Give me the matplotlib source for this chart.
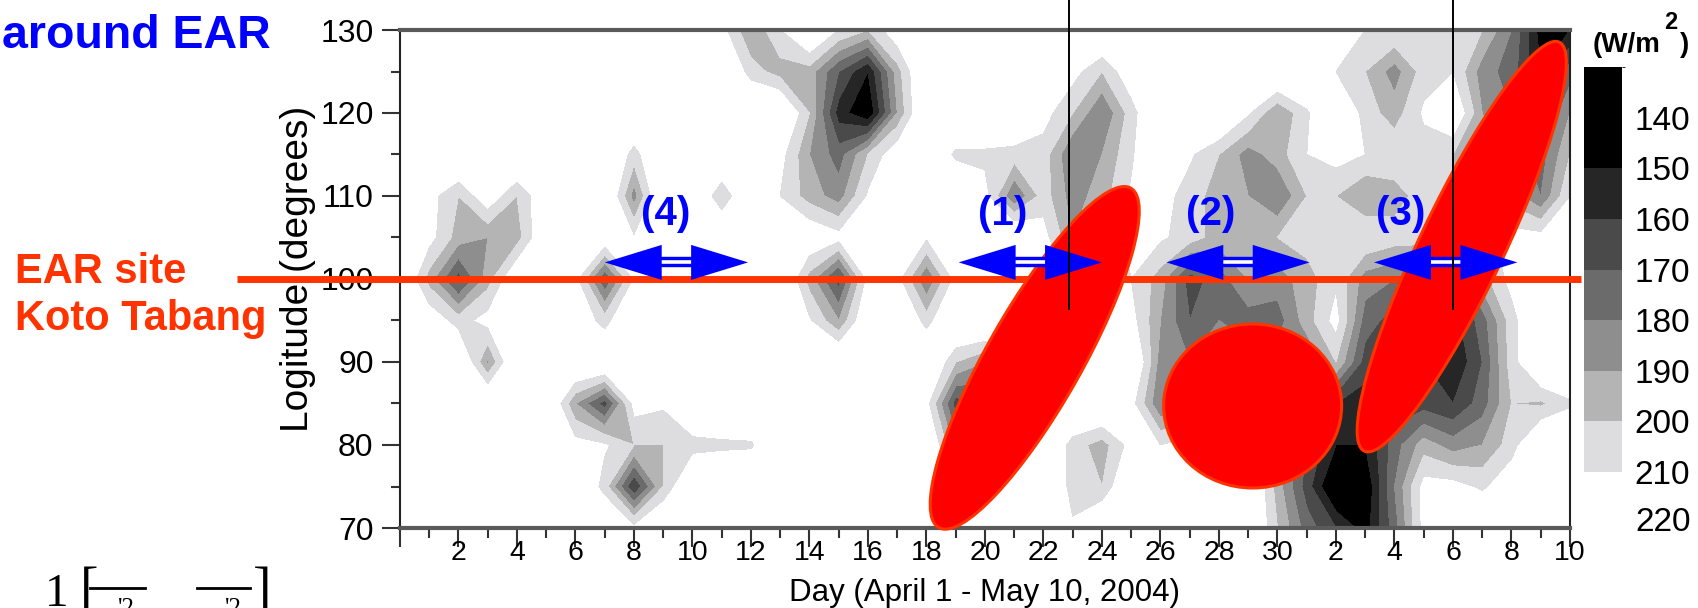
import numpy as np
import matplotlib
matplotlib.use("Agg")
import matplotlib.pyplot as plt
from matplotlib.colors import ListedColormap, BoundaryNorm
from matplotlib.patches import Ellipse, FancyArrowPatch
from matplotlib.transforms import ScaledTranslation, blended_transform_factory
from matplotlib.ticker import MultipleLocator
from matplotlib.lines import Line2D
import matplotlib.cm as cm

plt.rcParams['font.family'] = ['Liberation Sans', 'DejaVu Sans']

# day index: 1..30 = April 1..30, 31..40 = May 1..10
days = list(range(0, 41))
lons = [130, 125, 120, 115, 110, 105, 100, 95, 90, 85, 80, 75, 70]

# OLR (W/m^2), one row per longitude, days 0..40
olr_130 = [230, 230, 230, 230, 230, 230, 230, 230, 230, 230, 230, 215, 190, 210, 230, 210, 200, 220, 230, 230,
           230, 230, 230, 230, 230, 230, 230, 230, 230, 230, 230, 230, 215, 210, 210, 210, 208, 200, 180, 145, 150]
olr_125 = [230, 230, 230, 230, 230, 230, 230, 230, 230, 230, 230, 230, 205, 195, 195, 170, 150, 195, 230, 230,
           230, 230, 230, 215, 200, 220, 230, 230, 230, 230, 230, 230, 210, 200, 185, 205, 210, 185, 175, 150, 175]
olr_120 = [230, 230, 230, 230, 230, 230, 230, 230, 230, 230, 230, 230, 230, 230, 200, 155, 140, 190, 230, 230,
           230, 230, 215, 200, 180, 205, 230, 230, 230, 212, 190, 208, 230, 205, 195, 212, 225, 190, 180, 165, 190]
olr_115 = [230, 230, 230, 230, 230, 230, 230, 230, 205, 230, 230, 230, 230, 215, 190, 175, 200, 220, 230, 207,
           207, 205, 205, 180, 190, 208, 230, 212, 200, 185, 195, 210, 215, 210, 208, 205, 200, 195, 185, 175, 200]
olr_110 = [230, 215, 200, 220, 200, 222, 230, 230, 185, 230, 230, 200, 230, 210, 195, 185, 212, 230, 230, 230,
           215, 180, 205, 185, 195, 212, 215, 205, 195, 190, 180, 200, 200, 190, 195, 205, 200, 200, 195, 180, 210]
olr_105 = [230, 215, 195, 190, 195, 225, 230, 222, 212, 230, 230, 230, 230, 225, 222, 215, 230, 230, 212, 230,
           230, 230, 215, 190, 200, 215, 212, 205, 195, 195, 200, 205, 210, 210, 205, 205, 195, 205, 215, 215, 222]
olr_100 = [230, 195, 165, 195, 225, 230, 215, 170, 212, 230, 230, 230, 230, 230, 195, 165, 215, 215, 180, 215,
           230, 230, 230, 205, 215, 210, 195, 165, 175, 190, 185, 195, 208, 185, 180, 175, 165, 195, 215, 230, 230]
olr_95 = [230, 220, 205, 215, 230, 230, 222, 205, 230, 230, 230, 230, 230, 230, 212, 190, 225, 230, 205, 230,
          230, 230, 230, 230, 230, 215, 190, 170, 180, 175, 175, 195, 215, 175, 165, 160, 155, 175, 205, 230, 230]
olr_90 = [230, 230, 230, 188, 230, 230, 230, 230, 230, 230, 230, 230, 230, 230, 230, 230, 230, 230, 230, 200,
          190, 205, 230, 230, 230, 230, 185, 180, 185, 185, 185, 180, 200, 165, 175, 160, 150, 170, 205, 230, 230]
olr_85 = [230, 230, 230, 230, 230, 230, 190, 165, 215, 212, 230, 230, 230, 230, 230, 230, 230, 230, 215, 165,
          170, 200, 230, 230, 230, 215, 180, 190, 190, 190, 185, 170, 160, 155, 165, 165, 160, 175, 200, 198, 208]
olr_80 = [230, 230, 230, 230, 230, 230, 215, 212, 200, 200, 205, 207, 208, 230, 230, 230, 230, 230, 230, 185,
          190, 215, 230, 205, 195, 215, 210, 215, 220, 215, 200, 170, 150, 150, 175, 195, 185, 190, 205, 230, 230]
olr_75 = [230, 230, 230, 230, 230, 230, 230, 205, 160, 200, 230, 230, 230, 230, 230, 230, 230, 230, 230, 215,
          215, 230, 230, 205, 200, 230, 230, 230, 230, 230, 195, 165, 135, 140, 180, 215, 215, 208, 220, 230, 230]
olr_70 = [230, 230, 230, 230, 230, 230, 230, 230, 215, 230, 230, 230, 230, 230, 230, 230, 230, 230, 230, 230,
          230, 230, 230, 212, 230, 230, 230, 230, 230, 230, 200, 175, 160, 145, 175, 215, 230, 230, 230, 230, 230]

olr_levels = [100, 150, 160, 170, 180, 190, 200, 210]
olr_colors = ['#000000', '#262626', '#4a4a4a', '#6b6b6b', '#8e8e8e', '#b4b4b4', '#dddcde']
cbar_bounds = [130, 150, 160, 170, 180, 190, 200, 210]
cbar_labels = ['140', '150', '160', '170', '180', '190', '200', '210', '220']
cbar_label_vals = [140, 150, 160, 170, 180, 190, 200, 210, 220]

x_tick_days = [0, 2, 4, 6, 8, 10, 12, 14, 16, 18, 20, 22, 24, 26, 28, 30, 32, 34, 36, 38, 40]
x_tick_labels = ['', '2', '4', '6', '8', '10', '12', '14', '16', '18', '20', '22', '24', '26', '28', '30',
                 '2', '4', '6', '8', '10']
y_ticks = [70, 80, 90, 100, 110, 120, 130]

# annotations
ear_lon = 100
ear_line_days = [-5.57, 40.38]
marker_days = [22.87, 36.0]
arrow_lon = 102.0
arrow_start_days = [7.0, 19.1, 26.2, 33.3]
arrow_end_days = [11.9, 24.0, 31.1, 38.2]
arrow_labels = ['(4)', '(1)', '(2)', '(3)']
arrow_label_days = [9.1, 20.6, 27.7, 34.2]
arrow_label_lon = 107.8
# centre day, centre lon, length (in), width (in), angle
red_shapes = [(21.7, 90.5, 3.90, 0.95, 60.5),
              (29.15, 84.7, 1.78, 1.64, 0.0),
              (36.3, 103.9, 4.53, 0.84, 64.5)]

W, H = 1699, 608
fig = plt.figure(figsize=(W / 100, H / 100), dpi=100)
ax = fig.add_axes([400 / W, 1 - 528 / H, 1170 / W, 498 / H])

olr = np.array([olr_130, olr_125, olr_120, olr_115, olr_110, olr_105, olr_100,
                olr_95, olr_90, olr_85, olr_80, olr_75, olr_70])
ax.contourf(days, lons[::-1], olr[::-1], levels=olr_levels, colors=olr_colors, zorder=1)

ax.set_xlim(0, 40)
ax.set_ylim(70, 130)
ax.set_xticks(x_tick_days, x_tick_labels, fontsize=20.5)
ax.set_yticks(y_ticks, [str(v) for v in y_ticks], fontsize=23)
ax.xaxis.set_minor_locator(MultipleLocator(1))
ax.yaxis.set_minor_locator(MultipleLocator(5))
ax.tick_params(axis='x', which='major', length=14, width=1.5, color='#333333', pad=-5)
ax.tick_params(axis='x', which='minor', length=7, width=1.5, color='#333333')
ax.tick_params(axis='y', which='major', length=13, width=1.5, color='#333333', pad=6)
ax.tick_params(axis='y', which='minor', length=6.5, width=1.5, color='#333333')
for s in ['top', 'bottom']:
    ax.spines[s].set_color('#5a5a5a')
    ax.spines[s].set_linewidth(3)
for s in ['left', 'right']:
    ax.spines[s].set_color('#222222')
    ax.spines[s].set_linewidth(1.5)
ax.set_xlabel('Day (April 1 - May 10, 2004)', fontsize=22.5, va='baseline')
ax.xaxis.set_label_coords(0.5, (528 - 601.3) / 498)
ax.set_ylabel('Logitude (degrees)', fontsize=28, labelpad=0)
ax.yaxis.set_label_coords((316 - 400) / 1170, (528 - 269) / 498)

# EAR site line
ax.plot(ear_line_days, [ear_lon, ear_lon], color='#ff3300', lw=5, solid_capstyle='butt',
        clip_on=False, zorder=3)

# red shapes
for cx, cy, length, width, ang in red_shapes:
    tr = fig.dpi_scale_trans + ScaledTranslation(cx, cy, ax.transData)
    e = Ellipse((0, 0), length, width, angle=ang, transform=tr, facecolor='#ff0000',
                edgecolor='#ff3300', lw=2.2, zorder=4, clip_on=False)
    ax.add_patch(e)

# blue double arrows
for x0, x1 in zip(arrow_start_days, arrow_end_days):
    ax.plot([x0 + 1.0, x1 - 1.0], [arrow_lon, arrow_lon], color='#0000ff', lw=7.5,
            solid_capstyle='butt', zorder=6)
    ax.plot([x0 + 1.0, x1 - 1.0], [arrow_lon, arrow_lon], color='white', lw=2.6,
            solid_capstyle='butt', zorder=6.5)
    heads = FancyArrowPatch((x0, arrow_lon), (x1, arrow_lon),
                            arrowstyle='<|-|>,head_length=0.41,head_width=0.126',
                            mutation_scale=100, lw=0, color='#0000ff',
                            shrinkA=0, shrinkB=0, zorder=7)
    ax.add_patch(heads)
for lab, d in zip(arrow_labels, arrow_label_days):
    ax.text(d, arrow_label_lon, lab, color='#0000ff', fontsize=29, fontweight='bold',
            ha='center', va='center', zorder=8)

# thin black marker lines
for d in marker_days:
    ax.plot([d, d], [96.4, 134], color='black', lw=1.4, clip_on=False, zorder=10)

# colour bar
cax = fig.add_axes([1584 / W, 1 - 472 / H, 38 / W, 405 / H])
cmap = ListedColormap(olr_colors)
norm = BoundaryNorm(cbar_bounds, cmap.N)
cb = fig.colorbar(cm.ScalarMappable(norm=norm, cmap=cmap), cax=cax, spacing='proportional')
cb.outline.set_visible(False)
cax.set_ylim(210, 130)
cax.set_yticks(cbar_label_vals[:-1], cbar_labels[:-1], fontsize=24)
cax.tick_params(length=0, pad=9)
tr = blended_transform_factory(cax.transAxes, cax.transData)
cax.text(1.345, cbar_label_vals[-1], cbar_labels[-1], transform=tr, fontsize=24,
         ha='left', va='center', clip_on=False)

def fx(px):
    return px / W

def fy(py):
    return 1 - py / H

fig.text(fx(1593), fy(52), '(W/m', fontsize=20, fontweight='bold', va='baseline')
fig.text(fx(1664), fy(29), '2', fontsize=17, fontweight='bold', va='baseline')
fig.text(fx(1680), fy(52), ')', fontsize=20, fontweight='bold', va='baseline')

fig.text(fx(2), fy(48), 'around EAR', color='#0000ff', fontsize=33.5, fontweight='bold', va='baseline')
fig.text(fx(15), fy(283), 'EAR site', color='#ff3300', fontsize=30, fontweight='bold', va='baseline')
fig.text(fx(15), fy(330), 'Koto Tabang', color='#ff3300', fontsize=30, fontweight='bold', va='baseline')

# cut-off formula at bottom left
serif = ['Liberation Serif', 'DejaVu Serif']
fig.text(fx(45), fy(606), '1', family=serif, fontsize=34, va='baseline')
fig.text(fx(80), fy(566), '[', family=serif, fontsize=40, va='top')
fig.text(fx(253), fy(566), ']', family=serif, fontsize=40, va='top')
fig.lines.append(Line2D([fx(90), fx(145)], [fy(588), fy(588)], transform=fig.transFigure, color='black', lw=2))
fig.lines.append(Line2D([fx(197), fx(250)], [fy(588), fy(588)], transform=fig.transFigure, color='black', lw=2))
fig.text(fx(118), fy(598), "'2", family=serif, fontsize=18, va='top')
fig.text(fx(225), fy(598), "'2", family=serif, fontsize=18, va='top')

fig.savefig('out.png', dpi=100)
